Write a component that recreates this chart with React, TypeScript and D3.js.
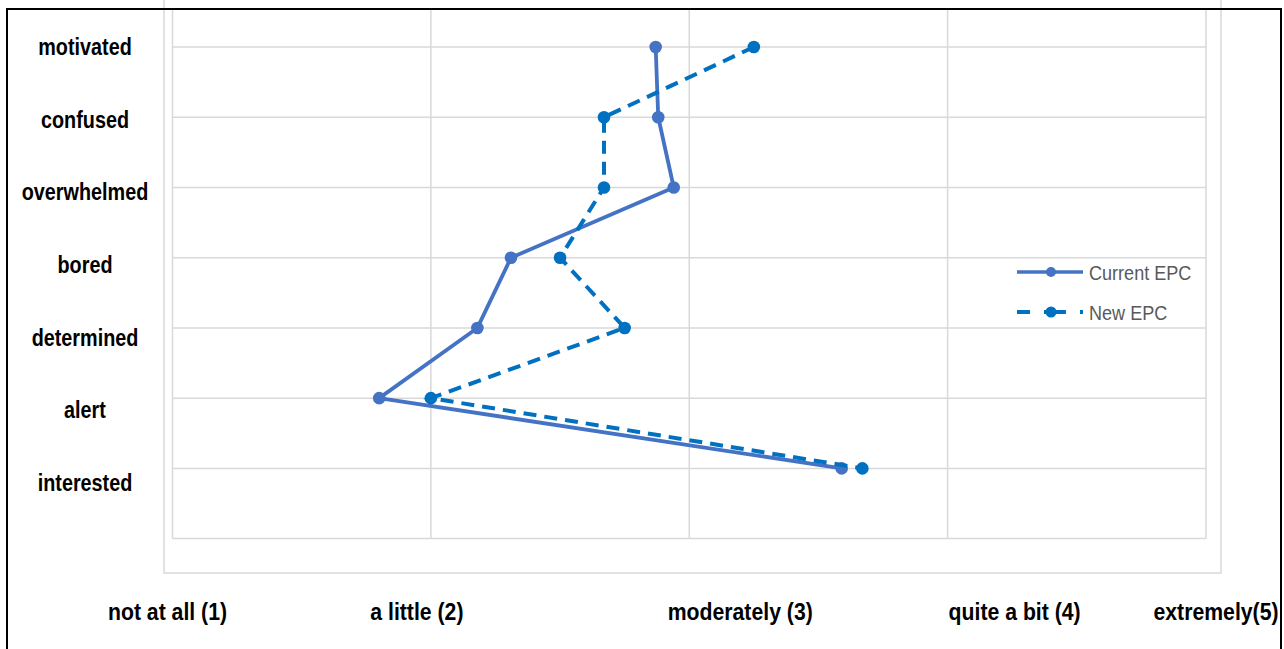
import React from "react";
import * as d3 from "d3";

const categories = ["motivated", "confused", "overwhelmed", "bored", "determined", "alert", "interested"];
const currentEPC = [2.87, 2.88, 2.94, 2.31, 2.18, 1.8, 3.59];
const newEPC = [3.25, 2.67, 2.67, 2.5, 2.75, 2.0, 3.67];
const scaleTicks = [1, 2, 3, 4, 5];
const scaleLabels = ["not at all (1)", "a little (2)", "moderately (3)", "quite a bit (4)", "extremely(5)"];
const seriesNames = ["Current EPC", "New EPC"];

// layout (not data)
const labelOffsets = [-5, -14, 51, 67, 10];

export default function App() {
  const W = 1284, H = 649;
  const x = d3.scaleLinear().domain([1, 5]).range([172.5, 1206]);
  const yDomain = ["__top", ...categories, "__bottom"];
  const y = d3.scalePoint<string>().domain(yDomain).range([-23.2, 538.6]);
  // category text labels are spaced slightly wider than the gridlines in the original
  const yLab = d3.scalePoint<string>().domain(categories).range([47, 483]);

  const line = d3
    .line<number>()
    .x((d) => x(d))
    .y((_, i) => y(categories[i]) as number);

  const cur = "#4472C4";
  const nw = "#0070C0";
  const grid = "#D9D9D9";
  const plotTop = 10;
  const plotBottom = y("__bottom") as number;

  return (
    <svg
      width={W}
      height={H}
      style={{ position: "absolute", left: 0, top: 0, background: "#fff" }}
      fontFamily="'Liberation Sans', Arial, sans-serif"
    >
      <rect x={0} y={0} width={W} height={H} fill="#fff" />
      {/* outer chart-area box */}
      <rect x={164} y={-20} width={1221 - 164} height={573 + 20} fill="none" stroke={grid} strokeWidth={1.5} />
      {/* vertical gridlines */}
      {scaleTicks.map((t) => (
        <line key={t} x1={x(t)} x2={x(t)} y1={plotTop} y2={plotBottom} stroke={grid} strokeWidth={1.5} />
      ))}
      {/* horizontal gridlines */}
      {categories.map((c) => (
        <line key={c} x1={x(1)} x2={x(5)} y1={y(c)} y2={y(c)} stroke={grid} strokeWidth={1.5} />
      ))}
      <line x1={x(1)} x2={x(5)} y1={plotBottom} y2={plotBottom} stroke={grid} strokeWidth={1.5} />

      {/* series */}
      <path d={line(currentEPC) || ""} fill="none" stroke={cur} strokeWidth={3.8} strokeLinejoin="round" />
      {currentEPC.map((v, i) => (
        <circle key={"c" + i} cx={x(v)} cy={y(categories[i])} r={6.3} fill={cur} />
      ))}
      <path d={line(newEPC) || ""} fill="none" stroke={nw} strokeWidth={4} strokeDasharray="13 8" />
      {newEPC.map((v, i) => (
        <circle key={"n" + i} cx={x(v)} cy={y(categories[i])} r={6.3} fill={nw} />
      ))}

      {/* y labels */}
      {categories.map((c) => (
        <text
          key={"yl" + c}
          transform={`translate(85,${(yLab(c) as number) + 8}) scale(0.9,1.05)`}
          textAnchor="middle"
          fontSize={22}
          fontWeight="bold"
          fill="#000"
        >
          {c}
        </text>
      ))}

      {/* x labels */}
      {scaleLabels.map((s, i) => (
        <text
          key={"xl" + i}
          transform={`translate(${x(scaleTicks[i]) + labelOffsets[i]},620) scale(0.965,1.05)`}
          textAnchor="middle"
          fontSize={22}
          fontWeight="bold"
          fill="#000"
        >
          {s}
        </text>
      ))}

      {/* legend */}
      <g>
        <line x1={1017} x2={1083} y1={272} y2={272} stroke={cur} strokeWidth={3.5} />
        <circle cx={1051} cy={272} r={5} fill={cur} />
        <text transform="translate(1089,279.5) scale(0.86,1)" fontSize={21} fill="#595959">
          {seriesNames[0]}
        </text>
        <line x1={1017} x2={1083} y1={312} y2={312} stroke={nw} strokeWidth={4} strokeDasharray="13 14 22 14 4" />
        <circle cx={1051} cy={312} r={5.5} fill={nw} />
        <text transform="translate(1089,319.5) scale(0.86,1)" fontSize={21} fill="#595959">
          {seriesNames[1]}
        </text>
      </g>

      {/* outer black border */}
      <line x1={7} x2={1282} y1={9} y2={9} stroke="#000" strokeWidth={2} />
      <line x1={7} x2={7} y1={8} y2={H} stroke="#000" strokeWidth={2} />
      <line x1={1281} x2={1281} y1={8} y2={H} stroke="#000" strokeWidth={2} />
    </svg>
  );
}
